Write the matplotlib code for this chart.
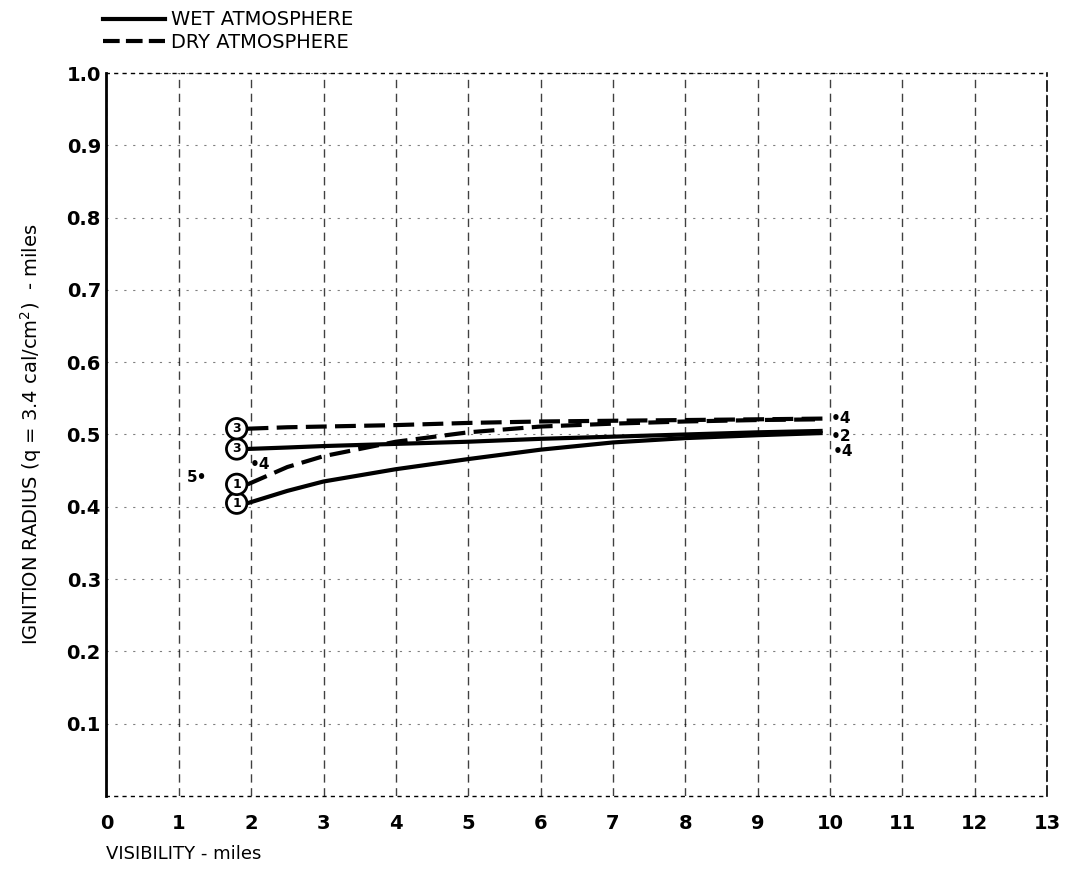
import numpy as np
import matplotlib
matplotlib.use('Agg')
import matplotlib.pyplot as plt
from matplotlib.lines import Line2D

# Visibility (miles) at which the curves were read
visibility = [1.95, 2.5, 3, 4, 5, 6, 7, 8, 9, 9.9]

# Ignition radius (miles), wet atmosphere
wet_1 = [0.405, 0.422, 0.435, 0.452, 0.466, 0.479, 0.489, 0.495, 0.499, 0.502]
wet_3 = [0.480, 0.482, 0.484, 0.487, 0.490, 0.494, 0.497, 0.500, 0.503, 0.505]

# Ignition radius (miles), dry atmosphere
dry_1 = [0.431, 0.455, 0.470, 0.490, 0.503, 0.511, 0.515, 0.518, 0.520, 0.521]
dry_3 = [0.508, 0.510, 0.511, 0.513, 0.516, 0.518, 0.519, 0.520, 0.521, 0.522]

# Circled curve labels (label, start value)
circle_labels = ['1', '3', '1', '3']
circle_values = [wet_1[0], wet_3[0], dry_1[0], dry_3[0]]

# Loose point labels scattered on the chart
point_text = ['5•', '•4', '•4', '•2', '•4']
point_x = [1.25, 2.12, 10.15, 10.15, 10.18]
point_y = [0.44, 0.458, 0.522, 0.497, 0.476]

x_ticks = list(range(0, 14))
y_ticks = [0.1, 0.2, 0.3, 0.4, 0.5, 0.6, 0.7, 0.8, 0.9, 1.0]

fig = plt.figure(figsize=(10.67, 8.86), dpi=100)
ax = fig.add_axes([0.0998, 0.1016, 0.8814, 0.8160])

# grid
for x in x_ticks:
    ax.axvline(x, color='black', lw=1.0, ls=(0, (6, 4)), alpha=0.75, zorder=1)
for y in y_ticks:
    ax.axhline(y, color='black', lw=0.8, ls=(0, (2, 6)), alpha=0.5, zorder=1)

# curves
ax.plot(visibility, wet_1, color='black', lw=3.0, solid_capstyle='butt', zorder=3)
ax.plot(visibility, wet_3, color='black', lw=3.0, solid_capstyle='butt', zorder=3)
ax.plot(visibility, dry_1, color='black', lw=3.0, ls=(0, (5, 2)), zorder=3)
ax.plot(visibility, dry_3, color='black', lw=3.0, ls=(0, (5, 2)), zorder=3)

for lab, val in zip(circle_labels, circle_values):
    ax.text(1.8, val, lab, ha='center', va='center', fontsize=9, fontweight='bold',
            bbox=dict(boxstyle='circle,pad=0.3', fc='white', ec='black', lw=2.0), zorder=4)

for t, px, py in zip(point_text, point_x, point_y):
    ax.text(px, py, t, ha='center', va='center', fontsize=11, fontweight='bold')

ax.set_xlim(0, 13)
ax.set_ylim(0, 1.0)
ax.set_xticks(x_ticks)
ax.set_yticks(y_ticks)
ax.set_xticklabels([str(v) for v in x_ticks], fontsize=14, fontweight='bold')
ax.set_yticklabels([f'{v:.1f}' for v in y_ticks], fontsize=14, fontweight='bold')
ax.tick_params(axis='x', length=0, pad=13)
ax.tick_params(axis='y', length=0, pad=4)

ax.spines['left'].set_linewidth(2.0)
ax.spines['right'].set_linestyle((0, (6, 3)))
ax.spines['right'].set_linewidth(1.2)
ax.spines['top'].set_linestyle((0, (2, 4)))
ax.spines['top'].set_linewidth(1.0)
ax.spines['bottom'].set_linestyle((0, (2, 4)))
ax.spines['bottom'].set_linewidth(1.0)

ax.set_ylabel('IGNITION RADIUS (q = 3.4 cal/cm$^2$)  - miles', fontsize=14, labelpad=16)
ax.text(0.0, -0.068, 'VISIBILITY - miles', transform=ax.transAxes, fontsize=13,
        ha='left', va='top')

# legend in the top-left corner
handles = [Line2D([], [], color='black', lw=3.0),
           Line2D([], [], color='black', lw=3.0, ls=(0, (4, 1.5)))]
fig.legend(handles, ['WET ATMOSPHERE', 'DRY ATMOSPHERE'], loc='upper left',
           bbox_to_anchor=(0.08, 1.008), frameon=False, fontsize=14,
           handlelength=3.2, handletextpad=0.3, labelspacing=0.2)

fig.savefig('out.png', dpi=100)
